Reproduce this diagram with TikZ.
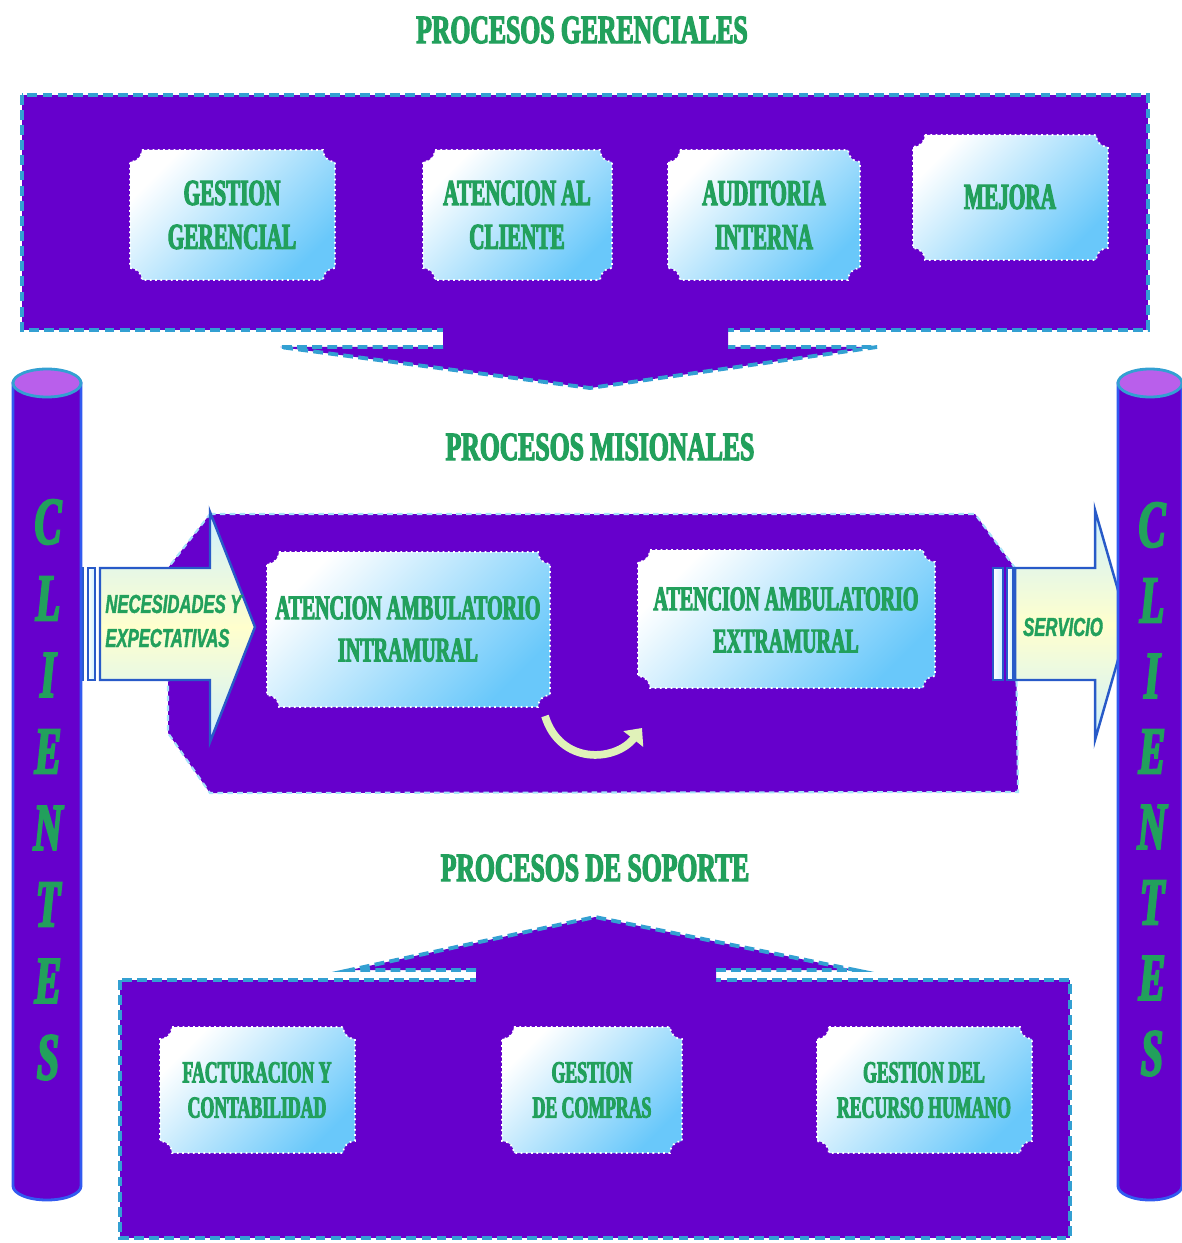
\documentclass[tikz,border=0pt]{standalone}
\usepackage{fontspec}
\setmainfont{Liberation Serif}
\newfontfamily\titlefont[FakeStretch=0.64,FakeBold=3]{Liberation Serif Bold}
\newfontfamily\boxfont[FakeStretch=0.58,FakeBold=3]{Liberation Serif Bold}
\newfontfamily\arrowfont[FakeStretch=0.64,FakeBold=1.5]{Liberation Sans Bold Italic}
\newfontfamily\letterfont[FakeStretch=0.6,FakeBold=3]{Liberation Serif Bold Italic}
\usetikzlibrary{positioning}
\usetikzlibrary{calc}
\usetikzlibrary{arrows.meta}

\definecolor{procpurple}{RGB}{102,0,204}
\definecolor{dashblue}{RGB}{51,160,210}
\definecolor{textgreen}{RGB}{34,160,92}
\definecolor{plaqueblue}{RGB}{105,200,250}
\definecolor{arrowblue}{RGB}{40,90,200}
\definecolor{arrowyellow}{RGB}{255,255,205}
\definecolor{arrowcyan}{RGB}{205,240,255}
\definecolor{cylblue}{RGB}{50,90,240}
\definecolor{cyltop}{RGB}{185,95,235}

\tikzset{
  proctitle/.style={text=textgreen, font=\titlefont\fontsize{11.4}{13}\selectfont},
  boxtext/.style={align=center, text=textgreen, font=\boxfont\fontsize{10.4}{12.5}\selectfont},
  midtext/.style={align=center, text=textgreen, font=\boxfont\fontsize{9.8}{12}\selectfont},
  lowtext/.style={align=center, text=textgreen, font=\boxfont\fontsize{8.7}{10}\selectfont},
  arrowtext/.style={align=left, text=textgreen, font=\arrowfont\fontsize{7.4}{9.7}\selectfont},
  clientletter/.style={text=textgreen, font=\letterfont\fontsize{19}{19}\selectfont},
  blockborder/.style={draw=dashblue, line width=1.1pt, dash pattern=on 2.8pt off 1.5pt},
  midborder/.style={draw=cyan!35!white, line width=0.6pt, dash pattern=on 1.6pt off 1.2pt},
  plaquefill/.style={top color=white, bottom color=plaqueblue, shading angle=45, draw=white, line width=0.5pt, densely dotted},
  blockarrow/.style={top color=arrowcyan, bottom color=arrowcyan, middle color=arrowyellow, draw=arrowblue, line width=0.7pt},
  barstyle/.style={left color=white, right color=arrowcyan, draw=arrowblue, line width=0.7pt},
  cylbody/.style={fill=procpurple, draw=cylblue, line width=0.8pt},
  cyclearrow/.style={draw=cyan!30!yellow!40!white, line width=2.2pt, -{Triangle[length=4pt,width=7pt]}}
}

% plaque with concave corners: x1, y1, x2, y2
\newcommand{\pr}{12}
\newcommand{\plaque}[4]{%
  \path[plaquefill] (#1+\pr,#2) -- (#3-\pr,#2) arc[start angle=180,end angle=90,radius=\pr]
    -- (#3,#4-\pr) arc[start angle=270,end angle=180,radius=\pr]
    -- (#1+\pr,#4) arc[start angle=0,end angle=-90,radius=\pr]
    -- (#1,#2+\pr) arc[start angle=90,end angle=0,radius=\pr] -- cycle;}

\begin{document}
\begin{tikzpicture}[x=0.01cm,y=-0.01cm]
\useasboundingbox (0,0) rectangle (1181,1243);

% titles
\node[proctitle](tGer) at (582,30){PROCESOS GERENCIALES};
\node[proctitle](tMis) at (600,447){PROCESOS MISIONALES};
\node[proctitle](tSop) at (595,868){PROCESOS DE SOPORTE};

% top block
\fill[procpurple] (22,95) rectangle (1148,330);
\draw[blockborder] (22,95) rectangle (1148,330);
\fill[procpurple] (443,326) -- (443,347) -- (280,347) -- (590,388) -- (877,347) -- (728,347) -- (728,326) -- cycle;
\draw[blockborder] (443,347) -- (280,347) -- (590,388) -- (877,347) -- (728,347);

\plaque{130}{150}{335}{280}
\plaque{423}{150}{612}{280}
\plaque{668}{150}{860}{280}
\plaque{913}{135}{1108}{260}
\node[boxtext](gestGer) at (232,215){GESTION\\GERENCIAL};
\node[boxtext](atCli) at (517,215){ATENCION AL\\CLIENTE};
\node[boxtext](audInt) at (764,215){AUDITORIA\\INTERNA};
\node[boxtext](mejora) at (1010,197){MEJORA};

% middle block
\fill[procpurple] (210,514) -- (975,514) -- (1015,568) -- (1018,792) -- (210,793) -- (168,733) -- (168,568) -- cycle;
\draw[midborder] (210,514) -- (975,514) -- (1015,568) -- (1018,792) -- (210,793) -- (168,733) -- (168,568) -- cycle;

\plaque{267}{552}{550}{707}
\plaque{638}{550}{935}{688}
\node[midtext](intra) at (408,629){ATENCION AMBULATORIO\\INTRAMURAL};
\node[midtext](extra) at (786,620){ATENCION AMBULATORIO\\EXTRAMURAL};

\draw[cyclearrow] (545,716) .. controls (560,765) and (615,762) .. (642,728);

% input and output arrows
\path[barstyle] (72,568) rectangle (83,680);
\path[barstyle] (88,568) rectangle (95,680);
\path[blockarrow] (100,568) -- (210,568) -- (210,512) -- (255,627) -- (210,742) -- (210,680) -- (100,680) -- cycle;
\node[arrowtext,anchor=west](needs) at (93,621){NECESIDADES Y\\EXPECTATIVAS};

\path[barstyle] (993,568) rectangle (1003,680);
\path[barstyle] (1007,568) rectangle (1013,680);
\path[blockarrow] (1015,568) -- (1095,568) -- (1095,510) -- (1128,625) -- (1095,740) -- (1095,680) -- (1015,680) -- cycle;
\node[arrowtext](serv) at (1063,627){SERVICIO};

% bottom block
\fill[procpurple] (120,980) rectangle (1070,1238);
\draw[blockborder] (120,980) rectangle (1070,1238);
\fill[procpurple] (476,984) -- (476,970) -- (350,970) -- (595,917) -- (855,970) -- (716,970) -- (716,984) -- cycle;
\draw[blockborder] (476,970) -- (350,970) -- (595,917) -- (855,970) -- (716,970);

\plaque{160}{1027}{355}{1153}
\plaque{502}{1027}{682}{1153}
\plaque{817}{1027}{1032}{1153}
\node[lowtext](factu) at (257,1090){FACTURACION Y\\CONTABILIDAD};
\node[lowtext](compras) at (592,1090){GESTION\\DE COMPRAS};
\node[lowtext](rrhh) at (924,1090){GESTION DEL\\RECURSO HUMANO};

% client columns
\foreach \cx/\r in {47/34,1150/32}{
  \path[cylbody] (\cx-\r,383) -- (\cx-\r,1186) arc[start angle=180,end angle=0,x radius=\r,y radius=14] -- (\cx+\r,383) -- cycle;
  \path[fill=cyltop, draw=dashblue, line width=0.8pt] (\cx,383) ellipse[x radius=\r, y radius=14];
}
\foreach \l [count=\i from 0] in {C,L,I,E,N,T,E,S}{
  \node[clientletter](cl\i) at (48,522+76.5*\i){\l};
  \node[clientletter](cr\i) at (1152,525+75.5*\i){\l};
}
\end{tikzpicture}
\end{document}
